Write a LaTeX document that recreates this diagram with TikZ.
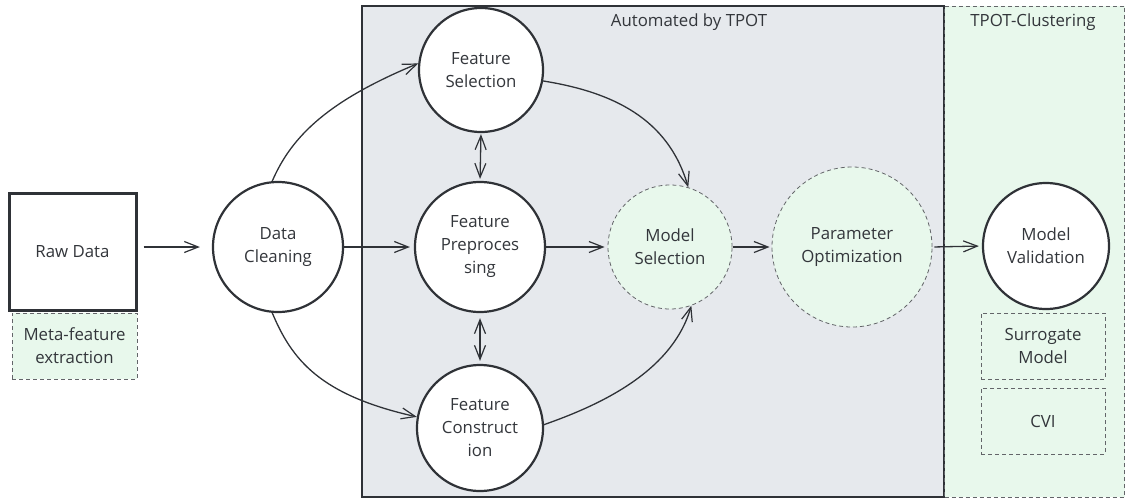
\documentclass[tikz,border=0pt]{standalone}
\usepackage{fontspec}
\setmainfont{Open Sans}
\usetikzlibrary{arrows.meta}
\definecolor{ln}{HTML}{2F3237}
\definecolor{txt}{HTML}{33363B}
\definecolor{grayfill}{HTML}{E6E9ED}
\definecolor{greenfill}{HTML}{E8F8EC}
\begin{document}
\begin{tikzpicture}[x=1pt,y=-1pt,
  font=\fontsize{16.8}{23}\selectfont, text=txt,
  circ/.style={circle,draw=ln,line width=2.2pt,fill=white,inner sep=0pt,align=center},
  dcirc/.style={circle,draw=ln!75,dashed,dash pattern=on 4pt off 3pt,line width=0.8pt,fill=greenfill,inner sep=0pt,align=center},
  dbox/.style={draw=ln!75,dash pattern=on 4pt off 3pt,line width=0.8pt,inner sep=0pt,align=center},
  tip/.tip={Straight Barb[length=14pt,width=11pt,line width=1.2pt]},
  conn/.style={draw=ln,line width=1.3pt,-tip},
  bconn/.style={draw=ln,line width=1.3pt,tip-tip},
]
\useasboundingbox (0,0) rectangle (1125,499);
% containers
\node[draw=ln,line width=1.2pt,fill=grayfill,minimum width=582pt,minimum height=491pt,inner sep=0pt] (auto) at (653,251.5) {};
\node[draw=ln!75,dash pattern=on 4pt off 3pt,line width=0.8pt,fill=greenfill,minimum width=180pt,minimum height=491pt,inner sep=0pt] (clus) at (1034.5,251.5) {};
\node (autolbl) at (689,22) {Automated by TPOT};
\node (cluslbl) at (1033,22) {TPOT-Clustering};
% left
\node[draw=ln,line width=3pt,fill=white,minimum width=127pt,minimum height=117pt,inner sep=0pt] (raw) at (72.5,251.5) {Raw Data};
\node[dbox,fill=greenfill,minimum width=125pt,minimum height=66pt] (meta) at (74.5,346) {Meta-feature\\extraction};
\node[circ,minimum size=130pt] (dc) at (278,247) {Data\\Cleaning};
% TPOT
\node[circ,minimum size=124pt] (fs) at (481,70) {Feature\\Selection};
\node[circ,minimum size=130pt] (fp) at (480,247) {Feature\\Preproces\\sing};
\node[circ,minimum size=126pt] (fc) at (480,428) {Feature\\Construct\\ion};
\node[dcirc,minimum size=124pt] (ms) at (670,247) {Model\\Selection};
\node[dcirc,minimum size=160pt] (po) at (852,247) {Parameter\\Optimization};
% clustering
\node[circ,minimum size=126pt] (mv) at (1046,246) {Model\\Validation};
\node[dbox,minimum width=124pt,minimum height=66pt] (sur) at (1043,346) {Surrogate\\Model};
\node[dbox,minimum width=124pt,minimum height=66pt] (cvi) at (1043,421) {CVI};
% connectors
\draw[conn,shorten <=6pt,shorten >=12pt] (raw.east |- dc.west) -- (dc.west);
\draw[conn,shorten >=4pt] (dc.east) -- (fp.west);
\draw[conn,shorten >=3pt] (fp.east) -- (ms.west);
\draw[conn,shorten <=1pt,shorten >=2pt] (ms.east) -- (po.west);
\draw[conn,shorten <=2pt,shorten >=3pt] (po.east) -- (mv.west);
\draw[bconn,shorten <=1pt,shorten >=2pt] (fs.south) -- (fp.north);
\draw[bconn,shorten <=5pt,shorten >=3pt] (fp.south) -- (fc.north);
\draw[conn] (dc.95) .. controls (292,135) and (330,100) .. (fs.174);
\draw[conn] (dc.265) .. controls (292,360) and (320,395) .. (fc.170);
\draw[conn] (fs.-10) .. controls (612,92) and (668,118) .. (ms.73);
\draw[conn] (fc.3) .. controls (600,405) and (672,372) .. (ms.-70);
\end{tikzpicture}
\end{document}
